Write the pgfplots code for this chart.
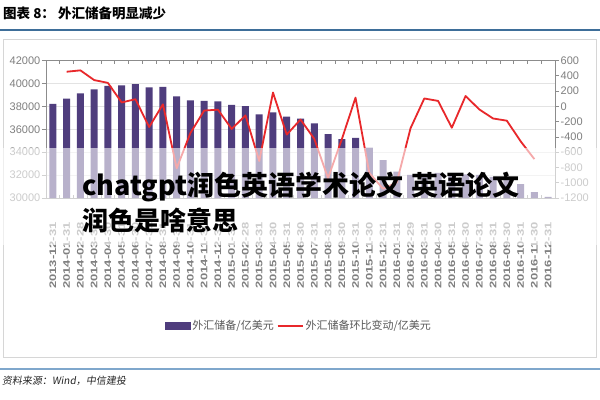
\documentclass[border=0pt]{standalone}
\usepackage{graphicx}
\usepackage{pgfplots}
\pgfplotsset{compat=1.18}
\usepackage{fontspec}
\setmainfont{Liberation Sans}
\newfontfamily\cjk{Noto Sans CJK SC}
\newfontfamily\cjkit[FakeSlant=0.15]{Noto Sans CJK SC}
\definecolor{barpurple}{HTML}{4F3D7D}
\definecolor{redline}{HTML}{E8282B}
\definecolor{axisgray}{HTML}{8C8C8C}
\definecolor{gridgray}{HTML}{E3E3E3}
\definecolor{ticktext}{HTML}{7F7F7F}
\definecolor{legendgray}{HTML}{595959}
\definecolor{titleblue}{HTML}{3E6E99}
\definecolor{srcblue}{HTML}{7FA7CC}
\definecolor{framegray}{HTML}{D6D6D6}
\newcommand\xl[1]{\scalebox{1.37}[1]{#1}}
\pgfplotsset{
  lineleg/.style={legend image code/.code={\draw[##1] (0bp,0bp) -- (25bp,0bp);}},
  barleg/.style={legend image code/.code={\fill[barpurple] (0bp,-3.5bp) rectangle (25bp,3.5bp);}},
}

\pgfplotstableread{
x y
0 38213
1 38666
2 39137
3 39481
4 39788
5 39839
6 39932
7 39661
8 39688
9 38877
10 38529
11 38474
12 38430
13 38134
14 38016
15 37300
16 37481
17 37111
18 36938
19 36513
20 35574
21 35141
22 35255
23 34383
24 33304
25 32309
26 32023
27 32126
28 32197
29 31917
30 32052
31 32011
32 31852
33 31664
34 31207
35 30516
36 30105
}\reserves

\pgfplotstableread{
x y
1 453
2 471
3 344
4 307
5 51
6 93
7 -271
8 27
9 -811
10 -348
11 -55
12 -44
13 -296
14 -118
15 -716
16 181
17 -370
18 -173
19 -425
20 -939
21 -433
22 114
23 -872
24 -1079
25 -995
26 -286
27 103
28 71
29 -280
30 135
31 -41
32 -159
33 -188
34 -457
35 -691
}\change

\begin{document}
\begin{tikzpicture}
\path[use as bounding box] (0,0) rectangle (600bp,-400bp);
\fill[white] (0,0) rectangle (600bp,-400bp);
% title
\node[anchor=west, inner sep=0pt] at (3bp,-13bp) {\cjk\bfseries\fontsize{13.5bp}{16bp}\selectfont 图表 8：\hspace{3bp}外汇储备明显减少};
\draw[titleblue, line width=2.5bp] (0,-30bp) -- (600bp,-30bp);
\draw[framegray, line width=0.8bp] (3bp,-39bp) rectangle (596bp,-357bp);

\begin{axis}[
  at={(46bp,-198bp)}, anchor=south west,
  scale only axis, width=509bp, height=137.5bp,
  xmin=-0.5, xmax=36.5, ymin=30000, ymax=42000,
  ybar, bar width=7bp,
  scaled y ticks=false,
  ytick={30000,32000,...,42000}, ytick pos=left,
  ymajorgrids, grid style={gridgray, line width=0.7bp},
  xtick={0,...,36},
  minor xtick={-0.5,0.5,...,36.5}, minor tick length=3.5bp,
  xtick align=inside, ytick align=outside, major tick length=4bp,
  xticklabel pos=lower,
  xticklabels={\xl{2013-12-31},\xl{2014-01-31},\xl{2014-02-28},\xl{2014-03-31},\xl{2014-04-30},\xl{2014-05-31},\xl{2014-06-30},\xl{2014-07-31},\xl{2014-08-31},\xl{2014-09-30},\xl{2014-10-31},\xl{2014-11-30},\xl{2014-12-31},\xl{2015-01-31},\xl{2015-02-28},\xl{2015-03-31},\xl{2015-04-30},\xl{2015-05-31},\xl{2015-06-30},\xl{2015-07-31},\xl{2015-08-31},\xl{2015-09-30},\xl{2015-10-31},\xl{2015-11-30},\xl{2015-12-31},\xl{2016-01-31},\xl{2016-02-29},\xl{2016-03-31},\xl{2016-04-30},\xl{2016-05-31},\xl{2016-06-30},\xl{2016-07-31},\xl{2016-08-31},\xl{2016-09-30},\xl{2016-10-31},\xl{2016-11-30},\xl{2016-12-31}},
  xticklabel style={rotate=90, anchor=east, inner sep=0pt, font=\bfseries\fontsize{9.5bp}{11bp}\selectfont, text=ticktext},
  xticklabel shift=24bp,
  yticklabel style={font=\fontsize{11bp}{13bp}\selectfont, text=ticktext, inner sep=1.5bp},
  axis line style={axisgray, line width=0.8bp},
  every tick/.style={axisgray, line width=0.7bp},
  major x tick style={draw=none},
  /pgf/number format/1000 sep={},
  /pgf/number format/assume math mode=true,
]
\addplot[fill=barpurple, draw=none] table[x=x, y=y] {\reserves};
\end{axis}

\begin{axis}[
  at={(46bp,-198bp)}, anchor=south west,
  scale only axis, width=509bp, height=137.5bp,
  xmin=-0.5, xmax=36.5, ymin=-1200, ymax=600,
  hide x axis, axis y line*=right,
  ytick={-1200,-1000,...,600},
  ytick align=outside, major tick length=4bp,
  yticklabel style={font=\fontsize{11bp}{13bp}\selectfont, text=ticktext, inner sep=1.5bp},
  axis line style={axisgray, line width=0.8bp},
  every tick/.style={axisgray, line width=0.7bp},
  /pgf/number format/1000 sep={},
  /pgf/number format/assume math mode=true,
  legend style={draw=none, fill=none, at={(0.497,-0.931)}, anchor=center,
    legend columns=2, font=\cjk\fontsize{11bp}{13bp}\selectfont, text=legendgray,
    inner sep=0pt, /tikz/every even column/.append style={column sep=1bp}},
]
\addlegendimage{barleg}
\addlegendentry{外汇储备/亿美元}
\addplot[redline, line width=1.8bp, line join=round, lineleg] table[x=x, y=y] {\change};
\addlegendentry{外汇储备环比变动/亿美元}
\end{axis}

% overlay
\fill[white, opacity=0.6] (0,-148bp) rectangle (600bp,-245bp);
\node[anchor=base west, inner sep=0pt] at (82bp,-195bp) {\cjk\bfseries\fontsize{27bp}{30bp}\selectfont chatgpt润色英语学术论文\hspace{0.3em}英语论文};
\node[anchor=base west, inner sep=0pt] at (82bp,-230bp) {\cjk\bfseries\fontsize{26bp}{30bp}\selectfont 润色是啥意思};

\draw[srcblue, line width=2bp] (0,-369bp) -- (600bp,-369bp);
\node[anchor=west, inner sep=0pt] at (2bp,-381bp) {\cjkit\fontsize{10bp}{12bp}\selectfont\color{black!85} 资料来源：Wind，中信建投};
\end{tikzpicture}
\end{document}
